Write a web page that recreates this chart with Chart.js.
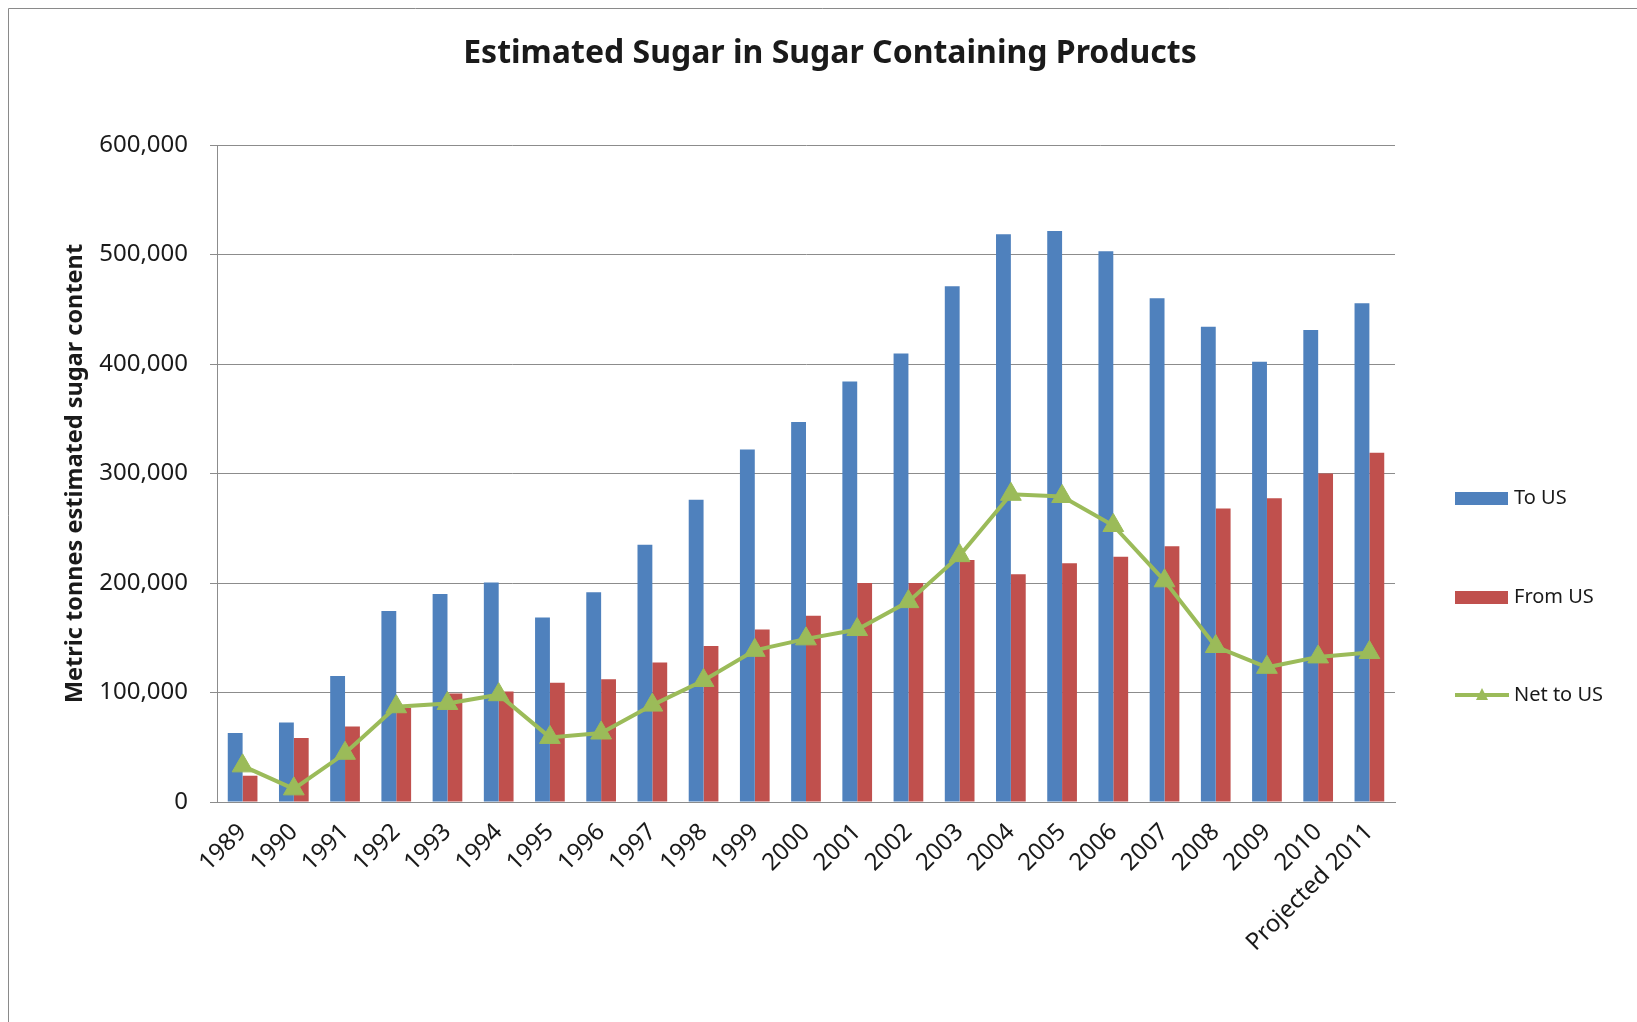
<!DOCTYPE html>
<html>
<head>
<meta charset="utf-8">
<title>Estimated Sugar in Sugar Containing Products</title>
<script src="https://cdn.jsdelivr.net/npm/chart.js@4"></script>
<style>
  html, body { margin: 0; padding: 0; background: #fff; }
  #wrap { width: 1637px; height: 1022px; position: relative; }
</style>
</head>
<body>
<div id="wrap"><canvas id="sugar-chart" width="1637" height="1022"></canvas></div>
<script>
"use strict"

// data (metric tonnes)
const years = [
  "1989", "1990", "1991", "1992", "1993", "1994", "1995", "1996",
  "1997", "1998", "1999", "2000", "2001", "2002", "2003", "2004",
  "2005", "2006", "2007", "2008", "2009", "2010", "Projected 2011",
]
const toUS = [
  63000, 72500, 115000, 174500, 190000, 200500, 168500, 191500,
  235000, 276000, 322000, 347000, 384000, 409500, 471000, 518500,
  521500, 503000, 460000, 434000, 402000, 431000, 455500,
]
const fromUS = [
  24000, 58500, 69000, 86000, 99000, 101000, 109000, 112000,
  127500, 142500, 157500, 170000, 200000, 200000, 221000, 208000,
  218000, 224000, 233500, 268000, 277500, 300000, 319000,
]
const netToUS = [
  33000, 12000, 44500, 87000, 90000, 98000, 59000, 63000,
  88500, 111000, 138500, 149000, 157500, 183000, 225000, 281000,
  279000, 252500, 202000, 142000, 123000, 132500, 136500,
]
const yTicks = [0, 100000, 200000, 300000, 400000, 500000, 600000]
const chartTitle = "Estimated Sugar in Sugar Containing Products"

const blue = "#4F81BD"
const red = "#C0504D"
const green = "#9BBB59"
const gridGray = "#8C8C8C"
const textColor = "#1a1a1a"

Chart.defaults.font.family = "'Noto Sans', 'DejaVu Sans', sans-serif"
Chart.defaults.color = textColor

// frame line round the chart, and the title centred on the whole canvas
const framePlugin = {
  id: "frame",
  beforeDraw(chart) {
    const ctx = chart.ctx
    ctx.save()
    ctx.fillStyle = "#fff"
    ctx.fillRect(0, 0, chart.width, chart.height)
    ctx.strokeStyle = "#8a8a8a"
    ctx.lineWidth = 1
    ctx.beginPath()
    ctx.moveTo(8.5, chart.height)
    ctx.lineTo(8.5, 8.5)
    ctx.lineTo(chart.width, 8.5)
    ctx.stroke()

    ctx.fillStyle = textColor
    ctx.font = "bold 32px 'Noto Sans', sans-serif"
    ctx.textAlign = "center"
    ctx.textBaseline = "middle"
    ctx.fillText(chartTitle, 830, 54)
    ctx.restore()
  },
}

// legend on the right
const sideLegend = {
  id: "sideLegend",
  afterDraw(chart) {
    const ctx = chart.ctx
    const x = chart.chartArea.right + 60
    const rows = [498, 597, 695]
    ctx.save()
    ctx.font = "20px 'Noto Sans', sans-serif"
    ctx.textBaseline = "middle"
    chart.data.datasets.forEach((ds, i) => {
      const y = rows[i]
      if (ds.type === "line") {
        ctx.strokeStyle = ds.borderColor
        ctx.lineWidth = 4
        ctx.beginPath()
        ctx.moveTo(x, y)
        ctx.lineTo(x + 54, y)
        ctx.stroke()
        ctx.fillStyle = ds.borderColor
        ctx.beginPath()
        ctx.moveTo(x + 27, y - 7)
        ctx.lineTo(x + 33, y + 5)
        ctx.lineTo(x + 21, y + 5)
        ctx.closePath()
        ctx.fill()
      } else {
        ctx.fillStyle = ds.backgroundColor
        ctx.fillRect(x, y - 6, 53, 13)
      }
      ctx.fillStyle = textColor
      ctx.fillText(ds.label, x + 59, y)
    })
    ctx.restore()
  },
}

const sugarCanvas = document.getElementById("sugar-chart")

const sugarData = {
  labels: years,
  datasets: [
    {
      label: "To US",
      data: toUS,
      backgroundColor: blue,
      categoryPercentage: 0.58,
      barPercentage: 1.0,
      order: 2,
    },
    {
      label: "From US",
      data: fromUS,
      backgroundColor: red,
      categoryPercentage: 0.58,
      barPercentage: 1.0,
      order: 2,
    },
    {
      type: "line",
      label: "Net to US",
      data: netToUS,
      borderColor: green,
      backgroundColor: green,
      borderWidth: 4,
      tension: 0,
      pointStyle: "triangle",
      pointRadius: 12,
      pointBackgroundColor: green,
      pointBorderColor: green,
      pointBorderWidth: 1,
      order: 0,
    },
  ],
}

const sugarOptions = {
  responsive: false,
  animation: false,
  layout: {
    padding: { left: 0, right: 242, top: 145, bottom: 0 },
  },
  scales: {
    x: {
      grid: { display: false },
      border: { display: true, color: gridGray, width: 1 },
      ticks: {
        font: { size: 24 },
        color: textColor,
        minRotation: 45,
        maxRotation: 45,
        autoSkip: false,
        padding: 8,
      },
      afterFit(scale) {
        scale.height = 220
      },
    },
    y: {
      min: 0,
      max: 600000,
      afterBuildTicks(scale) {
        scale.ticks = yTicks.map((v) => ({ value: v }))
      },
      grid: {
        color: gridGray,
        lineWidth: 1,
        drawTicks: true,
        tickLength: 7,
      },
      border: { display: true, color: gridGray, width: 1 },
      ticks: {
        font: { size: 24 },
        color: textColor,
        padding: 22,
        callback: (v) => v.toLocaleString("en-US"),
      },
      title: {
        display: true,
        text: "Metric tonnes estimated sugar content",
        font: { size: 23.5, weight: "bold" },
        color: textColor,
        padding: { top: 61, bottom: 0 },
      },
      afterFit(scale) {
        scale.width = 217
      },
    },
  },
  plugins: {
    legend: { display: false },
    tooltip: { enabled: false },
    title: { display: false },
  },
}

let sugarChart = new Chart(sugarCanvas, {
  type: "bar",
  data: sugarData,
  options: sugarOptions,
  plugins: [framePlugin, sideLegend],
})
</script>
</body>
</html>
